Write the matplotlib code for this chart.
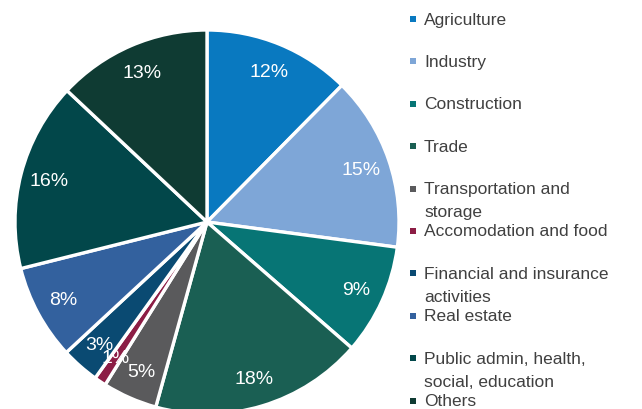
import matplotlib

matplotlib.use("Agg")
import matplotlib.pyplot as plt  # noqa: E402
from matplotlib.patches import Rectangle  # noqa: E402

# --- data ---
sectors = [
    "Agriculture",
    "Industry",
    "Construction",
    "Trade",
    "Transportation and\nstorage",
    "Accomodation and food",
    "Financial and insurance\nactivities",
    "Real estate",
    "Public admin, health,\nsocial, education",
    "Others",
]
shares = [12.4, 14.7, 9.3, 17.9, 4.6, 1.0, 3.2, 8.0, 15.9, 13.0]
colors = [
    "#0979C0", "#7EA6D7", "#077575", "#1A5F53", "#5A5A5C",
    "#8C1D45", "#0A4A72", "#33619E", "#02474A", "#0F3B33",
]

W, H = 642, 410
plt.rcParams["font.family"] = ["Liberation Sans", "DejaVu Sans"]
fig = plt.figure(figsize=(W / 100, H / 100), dpi=100)

# pie centre / radius in pixels
cx, cy, r = 207, H - 223, 192
ax = fig.add_axes([(cx - r) / W, (cy - r) / H, 2 * r / W, 2 * r / H])
wedges, _, autotexts = ax.pie(
    shares, colors=colors, startangle=90, counterclock=False,
    autopct="%.0f%%", pctdistance=0.85, radius=1,
    wedgeprops=dict(edgecolor="white", linewidth=2.4),
    textprops=dict(color="white", fontsize=14),
)
ax.set_xlim(-1, 1)
ax.set_ylim(-1, 1)
ax.set_aspect("equal")
ax.axis("off")

# --- legend, drawn by hand to mimic the spaced Excel layout ---
y0, step = 20, 42.4
for i, (name, c) in enumerate(zip(sectors, colors)):
    y = y0 + i * step
    fig.patches.append(Rectangle(((410) / W, (H - y - 3) / H), 6 / W, 6 / H,
                                 transform=fig.transFigure, facecolor=c,
                                 edgecolor="none"))
    for j, line in enumerate(name.split("\n")):
        fig.text(424 / W, (H - y - j * 23) / H, line, fontsize=12.5,
                 color="#404040", va="center", ha="left")

fig.savefig("out.png", dpi=100)
